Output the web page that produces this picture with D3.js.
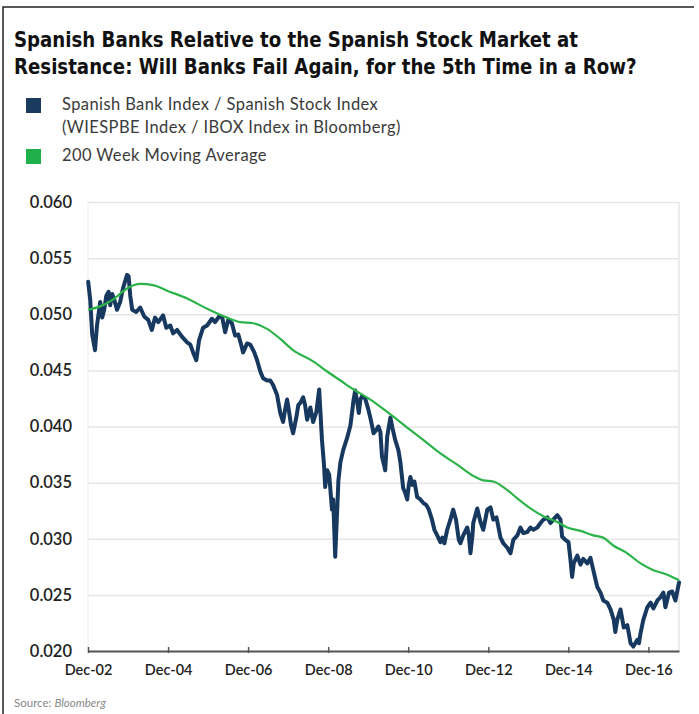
<!DOCTYPE html>
<html>
<head>
<meta charset="utf-8">
<script src="https://cdn.jsdelivr.net/npm/d3@7"></script>
<style>
  body { margin: 0; background: #fff; }
  figure { margin: 0; }
  svg { display: block; }
</style>
</head>
<body>
<figure id="chart"></figure>
<script>
// Spanish bank index / Spanish stock index (decimal years)
const bankDates = [
  2002.92, 2002.97, 2003.02, 2003.09, 2003.14, 2003.22, 2003.27, 2003.32, 2003.37, 2003.43,
  2003.47, 2003.52, 2003.57, 2003.64, 2003.72, 2003.79, 2003.89, 2003.93, 2003.97, 2004.02,
  2004.12, 2004.22, 2004.32, 2004.42, 2004.51, 2004.59, 2004.67, 2004.79, 2004.87, 2004.97,
  2005.04, 2005.14, 2005.26, 2005.39, 2005.47, 2005.54, 2005.62, 2005.69, 2005.79, 2005.89,
  2006.01, 2006.09, 2006.19, 2006.27, 2006.34, 2006.42, 2006.51, 2006.59, 2006.67, 2006.74,
  2006.79, 2006.89, 2006.97, 2007.07, 2007.14, 2007.22, 2007.29, 2007.39, 2007.47, 2007.54,
  2007.64, 2007.72, 2007.79, 2007.84, 2007.89, 2007.94, 2007.99, 2008.04, 2008.12, 2008.17,
  2008.22, 2008.29, 2008.34, 2008.39, 2008.47, 2008.54, 2008.62, 2008.69, 2008.76, 2008.81,
  2008.84, 2008.89, 2008.94, 2009.01, 2009.04, 2009.09, 2009.14, 2009.17, 2009.22, 2009.29,
  2009.39, 2009.47, 2009.52, 2009.55, 2009.59, 2009.64, 2009.68, 2009.72, 2009.76, 2009.84,
  2009.92, 2009.98, 2010.05, 2010.12, 2010.17, 2010.22, 2010.26, 2010.31, 2010.34, 2010.39,
  2010.47, 2010.52, 2010.59, 2010.67, 2010.72, 2010.79, 2010.84, 2010.89, 2010.93, 2010.97,
  2011.02, 2011.07, 2011.14, 2011.22, 2011.29, 2011.37, 2011.43, 2011.51, 2011.57, 2011.64,
  2011.72, 2011.77, 2011.82, 2011.89, 2011.97, 2012.04, 2012.11, 2012.18, 2012.22, 2012.29,
  2012.39, 2012.43, 2012.47, 2012.52, 2012.54, 2012.64, 2012.72, 2012.79, 2012.89, 2012.97,
  2013.04, 2013.12, 2013.22, 2013.29, 2013.39, 2013.47, 2013.54, 2013.64, 2013.72, 2013.79,
  2013.89, 2013.97, 2014.04, 2014.14, 2014.22, 2014.29, 2014.39, 2014.47, 2014.54, 2014.64,
  2014.72, 2014.76, 2014.84, 2014.92, 2014.97, 2015.01, 2015.05, 2015.14, 2015.22, 2015.29,
  2015.39, 2015.47, 2015.54, 2015.64, 2015.72, 2015.79, 2015.89, 2015.97, 2016.05, 2016.09,
  2016.14, 2016.22, 2016.30, 2016.39, 2016.47, 2016.54, 2016.64, 2016.68, 2016.72, 2016.79,
  2016.89, 2016.97, 2017.04, 2017.14, 2017.22, 2017.29, 2017.34, 2017.43, 2017.51, 2017.59,
  2017.68
];
const bankValues = [
  0.0529, 0.0513, 0.0482, 0.0468, 0.0490, 0.0511, 0.0497, 0.0504, 0.0516, 0.0520,
  0.0508, 0.0518, 0.0513, 0.0504, 0.0511, 0.0523, 0.0535, 0.0534, 0.0517, 0.0504,
  0.0502, 0.0506, 0.0498, 0.0495, 0.0486, 0.0497, 0.0493, 0.0499, 0.0488, 0.0490,
  0.0483, 0.0486, 0.0480, 0.0475, 0.0473, 0.0466, 0.0459, 0.0477, 0.0488, 0.0490,
  0.0496, 0.0493, 0.0498, 0.0497, 0.0484, 0.0495, 0.0492, 0.0481, 0.0482, 0.0473,
  0.0466, 0.0474, 0.0473, 0.0466, 0.0459, 0.0449, 0.0443, 0.0441, 0.0441, 0.0437,
  0.0428, 0.0412, 0.0404, 0.0415, 0.0424, 0.0413, 0.0401, 0.0394, 0.0408, 0.0419,
  0.0421, 0.0426, 0.0419, 0.0406, 0.0417, 0.0404, 0.0413, 0.0433, 0.0388, 0.0366,
  0.0346, 0.0361, 0.0357, 0.0326, 0.0335, 0.0284, 0.0326, 0.0352, 0.0368, 0.0379,
  0.0390, 0.0401, 0.0415, 0.0424, 0.0432, 0.0422, 0.0412, 0.0424, 0.0427, 0.0425,
  0.0415, 0.0406, 0.0394, 0.0397, 0.0400, 0.0395, 0.0373, 0.0366, 0.0361, 0.0391,
  0.0408, 0.0399, 0.0388, 0.0379, 0.0368, 0.0345, 0.0341, 0.0335, 0.0348, 0.0355,
  0.0348, 0.0351, 0.0337, 0.0335, 0.0332, 0.0330, 0.0326, 0.0317, 0.0308, 0.0303,
  0.0297, 0.0301, 0.0296, 0.0308, 0.0317, 0.0326, 0.0317, 0.0299, 0.0296, 0.0303,
  0.0310, 0.0303, 0.0287, 0.0303, 0.0314, 0.0327, 0.0315, 0.0308, 0.0326, 0.0328,
  0.0317, 0.0319, 0.0301, 0.0296, 0.0292, 0.0287, 0.0299, 0.0303, 0.0310, 0.0305,
  0.0306, 0.0310, 0.0308, 0.0310, 0.0314, 0.0317, 0.0319, 0.0314, 0.0317, 0.0321,
  0.0317, 0.0302, 0.0299, 0.0297, 0.0281, 0.0266, 0.0278, 0.0285, 0.0277, 0.0282,
  0.0278, 0.0283, 0.0272, 0.0257, 0.0252, 0.0245, 0.0243, 0.0237, 0.0228, 0.0217,
  0.0228, 0.0237, 0.0221, 0.0223, 0.0207, 0.0204, 0.0210, 0.0207, 0.0216, 0.0228,
  0.0239, 0.0243, 0.0238, 0.0245, 0.0248, 0.0252, 0.0239, 0.0252, 0.0253, 0.0245,
  0.0261
];

// 200 week moving average
const maDates = [
  2002.92, 2003.22, 2003.54, 2003.89, 2004.22, 2004.54, 2004.89, 2005.39, 2005.89, 2006.39,
  2006.72, 2007.04, 2007.39, 2007.72, 2008.04, 2008.54, 2008.89, 2009.22, 2009.55, 2009.97,
  2010.39, 2010.89, 2011.29, 2011.72, 2012.14, 2012.54, 2012.79, 2013.04, 2013.29, 2013.64,
  2013.97, 2014.29, 2014.64, 2014.89, 2015.22, 2015.54, 2015.79, 2016.04, 2016.39, 2016.72,
  2017.04, 2017.39, 2017.68
];
const maValues = [
  0.0504, 0.0507, 0.0513, 0.0523, 0.0527, 0.0526, 0.0521, 0.0514, 0.0505, 0.0497,
  0.0493, 0.0492, 0.0487, 0.0478, 0.0468, 0.0458, 0.0449, 0.0441, 0.0433, 0.0424,
  0.0413, 0.0399, 0.0388, 0.0376, 0.0366, 0.0356, 0.0352, 0.0351, 0.0346, 0.0336,
  0.0327, 0.0320, 0.0315, 0.0310, 0.0307, 0.0303, 0.0301, 0.0294, 0.0287, 0.0278,
  0.0272, 0.0268, 0.0263
];

const yTicks = [0.020, 0.025, 0.030, 0.035, 0.040, 0.045, 0.050, 0.055, 0.060];
const xTickLabels = ["Dec-02", "Dec-04", "Dec-06", "Dec-08", "Dec-10", "Dec-12", "Dec-14", "Dec-16"];

const titleLines = [
  "Spanish Banks Relative to the Spanish Stock Market at",
  "Resistance: Will Banks Fail Again, for the 5th Time in a Row?"
];
const legendItems = [
  { lines: ["Spanish Bank Index / Spanish Stock Index", "(WIESPBE Index / IBOX Index in Bloomberg)"], color: "#1a3a60" },
  { lines: ["200 Week Moving Average"], color: "#1fb04b" }
];

// decimal year -> Date
function toDate(t) {
  let y = Math.floor(t);
  let start = new Date(y, 0, 1), end = new Date(y + 1, 0, 1);
  return new Date(+start + (t - y) * (end - start));
}

let dimensions = {
  width: 699,
  height: 714,
  margin: { top: 202, right: 20, bottom: 63, left: 88 }
};
dimensions.boundedWidth = dimensions.width - dimensions.margin.left - dimensions.margin.right;
dimensions.boundedHeight = dimensions.height - dimensions.margin.top - dimensions.margin.bottom;

const svg = d3.select("figure#chart")
  .append("svg")
  .attr("width", dimensions.width)
  .attr("height", dimensions.height)
  .style("font-family", "Lato, 'Open Sans', sans-serif");

svg.append("rect").attr("width", dimensions.width).attr("height", dimensions.height).attr("fill", "#fff");

// outer frame (top and left only)
svg.append("path")
  .attr("d", "M3,714 V7 H694")
  .attr("fill", "none")
  .attr("stroke", "#222")
  .attr("stroke-width", 1.5);

// title
const title = svg.append("g")
  .style("font-family", "'Liberation Sans Narrow', 'DejaVu Sans Condensed', sans-serif")
  .style("font-weight", "bold")
  .style("font-size", "22px")
  .attr("fill", "#111");
const t1 = title.append("text").attr("x", 14).attr("y", 47).text(titleLines[0]);
const t2 = title.append("text").attr("x", 14).attr("y", 74).text(titleLines[1]);
const squeeze = 564 / t1.node().getComputedTextLength();
t1.attr("textLength", 564).attr("lengthAdjust", "spacingAndGlyphs");
t2.attr("textLength", t2.node().getComputedTextLength() * squeeze).attr("lengthAdjust", "spacingAndGlyphs");

// legend
const legend = svg.append("g").attr("fill", "#3a3a3a").style("font-size", "16.5px").style("letter-spacing", "0.4px");
let ly = 98;
legendItems.forEach((item, i) => {
  legend.append("rect").attr("x", 26).attr("y", ly).attr("width", 15).attr("height", 15).attr("fill", item.color);
  item.lines.forEach((line, j) => {
    legend.append("text").attr("x", 62).attr("y", ly + 12 + j * 23).text(line);
  });
  ly += item.lines.length * 23 + 5;
});

const bounds = svg.append("g")
  .attr("transform", `translate(${dimensions.margin.left}, ${dimensions.margin.top})`);

const parseTick = d3.timeParse("%b-%y");
const xTickDates = xTickLabels.map(parseTick);

const xScale = d3.scaleTime()
  .domain([xTickDates[0], toDate(d3.max(bankDates))])
  .range([0, dimensions.boundedWidth]);

const yScale = d3.scaleLinear()
  .domain([d3.min(yTicks), d3.max(yTicks)])
  .range([dimensions.boundedHeight, 0]);

// gridlines
bounds.append("g")
  .attr("class", "grid")
  .call(d3.axisLeft(yScale).tickValues(yTicks).tickSize(-dimensions.boundedWidth).tickFormat(""))
  .call(g => g.select(".domain").remove())
  .call(g => g.selectAll("line").attr("stroke", "#e6e6e6").attr("stroke-width", 1.5));

// plot side borders
bounds.append("line")
  .attr("x1", dimensions.boundedWidth).attr("x2", dimensions.boundedWidth)
  .attr("y1", 0).attr("y2", dimensions.boundedHeight)
  .attr("stroke", "#e6e6e6").attr("stroke-width", 1.5);
bounds.append("line")
  .attr("x1", 0).attr("x2", 0)
  .attr("y1", 0).attr("y2", dimensions.boundedHeight)
  .attr("stroke", "#ededed").attr("stroke-width", 1);

// y axis labels
bounds.append("g")
  .call(d3.axisLeft(yScale).tickValues(yTicks).tickSize(0).tickPadding(16).tickFormat(d3.format(".3f")))
  .call(g => g.select(".domain").remove())
  .call(g => g.selectAll("text")
    .attr("fill", "#222")
    .style("font-size", "16.5px")
    .style("font-family", "Lato, sans-serif")
    .style("font-weight", "600"));

// lines
const bankData = bankDates.map((d, i) => ({ date: toDate(d), value: bankValues[i] }));
const maData = maDates.map((d, i) => ({ date: toDate(d), value: maValues[i] }));

const bankLine = d3.line()
  .x(d => xScale(d.date))
  .y(d => yScale(d.value));

const maLine = d3.line()
  .x(d => xScale(d.date))
  .y(d => yScale(d.value))
  .curve(d3.curveMonotoneX);

bounds.append("path")
  .datum(bankData)
  .attr("fill", "none")
  .attr("stroke", "#17395f")
  .attr("stroke-width", 4)
  .attr("stroke-linejoin", "round")
  .attr("stroke-linecap", "round")
  .attr("d", bankLine);

bounds.append("path")
  .datum(maData)
  .attr("fill", "none")
  .attr("stroke", "#2cb34a")
  .attr("stroke-width", 2.2)
  .attr("d", maLine);

// x axis
bounds.append("g")
  .attr("transform", `translate(0, ${dimensions.boundedHeight})`)
  .call(d3.axisBottom(xScale).tickValues(xTickDates).tickSizeInner(-4).tickSizeOuter(0)
    .tickPadding(14).tickFormat(d3.timeFormat("%b-%y")))
  .call(g => g.select(".domain").attr("stroke", "#555").attr("stroke-width", 2))
  .call(g => g.selectAll(".tick line").attr("stroke", "#555").attr("stroke-width", 1.5).attr("y1", 2))
  .call(g => g.selectAll("text")
    .attr("fill", "#222")
    .style("font-size", "14.5px")
    .style("font-family", "Lato, sans-serif")
    .style("font-weight", "600"));

// source
const source = svg.append("text")
  .attr("x", 14).attr("y", 707)
  .attr("fill", "#888")
  .style("font-size", "11.5px");
source.append("tspan").text("Source: ");
source.append("tspan").style("font-style", "italic").text("Bloomberg");
</script>
</body>
</html>
